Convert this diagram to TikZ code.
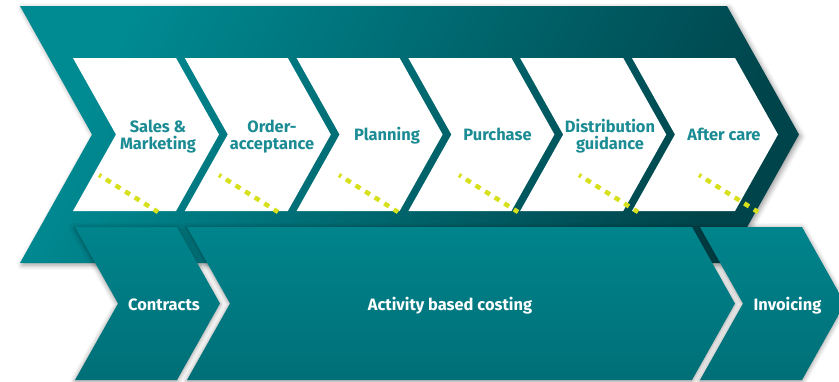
\documentclass[tikz,border=0pt]{standalone}
\usepackage{fontspec}
\setmainfont{Fira Sans}
\usetikzlibrary{shadows.blur}
\definecolor{bigA}{HTML}{008A92}
\definecolor{bigB}{HTML}{00444B}
\definecolor{lowA}{HTML}{00848C}
\definecolor{lowB}{HTML}{006F77}
\definecolor{txtTeal}{HTML}{1B8B94}
\definecolor{dotLime}{HTML}{D6E01C}
\tikzset{
  bigchev/.style={left color=bigA, right color=bigB, shading angle=62,
    blur shadow={shadow xshift=2bp, shadow yshift=-2bp, shadow blur radius=5bp, shadow opacity=40}},
  whitechev/.style={fill=white},
  lowchev/.style={top color=lowA, bottom color=lowB,
    blur shadow={shadow xshift=0bp, shadow yshift=-1bp, shadow blur radius=5bp, shadow opacity=45}},
  toptext/.style={text=txtTeal, font=\bfseries\fontsize{16.5}{17}\selectfont, align=center, inner sep=0pt},
  lowtext/.style={text=white, font=\bfseries\fontsize{16.5}{17}\selectfont, inner sep=0pt, anchor=base},
  dotline/.style={draw=dotLime, line width=4.5bp, dash pattern=on 5.5bp off 5.8bp, dash phase=3bp}
}
\begin{document}
\begin{tikzpicture}[x=1bp, y=-1bp]
\useasboundingbox (0,0) rectangle (839,381);
\clip (0,0) rectangle (839,381);
% big chevron
\path[bigchev] (20,6) -- (727,6) -- (799,134.5) -- (727,263) -- (20,263) -- (92,134.5) -- cycle;
% white chevrons
\foreach \i in {0,...,5} {
  \pgfmathsetmacro\L{73+111.8*\i}
  \path[whitechev] (\L,58) -- ++(103,0) -- ++(43,76.5) -- ++(-43,76.5) -- ++(-103,0) -- ++(43,-76.5) -- cycle;
}
% dotted lines
\foreach \i in {0,...,5} {
  \draw[dotline] (99+120*\i,175) -- (158+120*\i,212);
}
% lower chevrons
\path[lowchev] (75,227) -- (177,227) -- (220,303.5) -- (177,380) -- (75,380) -- (118,303.5) -- cycle;
\path[lowchev] (187,227) -- (692,227) -- (735,303.5) -- (692,380) -- (187,380) -- (230,303.5) -- cycle;
\path[lowchev] (700,227) -- (802,227) -- (845,303.5) -- (802,380) -- (700,380) -- (743,303.5) -- cycle;
% top texts
\node[toptext] (sales) at (158,136.6) {Sales \&\\Marketing};
\node[toptext] (order) at (272,136.6) {Order-\\acceptance};
\node[toptext, anchor=base] (planning) at (387,140.5) {Planning};
\node[toptext, anchor=base] (purchase) at (497.5,140.5) {Purchase};
\node[toptext] (distribution) at (610,136.6) {Distribution\\guidance};
\node[toptext, anchor=base] (aftercare) at (724,140.5) {After care};
% lower texts
\node[lowtext] (contracts) at (164,310.5) {Contracts};
\node[lowtext] (abc) at (450,310.5) {Activity based costing};
\node[lowtext] (invoicing) at (787.5,310.5) {Invoicing};
\end{tikzpicture}
\end{document}
